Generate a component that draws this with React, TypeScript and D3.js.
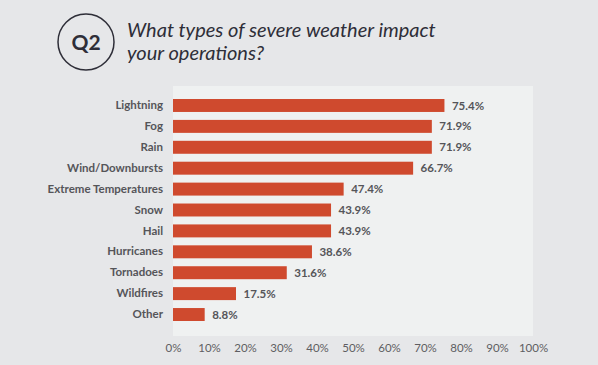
import React, { useEffect, useRef } from 'react';
import * as d3 from 'd3';

const categories = ['Lightning', 'Fog', 'Rain', 'Wind/Downbursts', 'Extreme Temperatures',
	'Snow', 'Hail', 'Hurricanes', 'Tornadoes', 'Wildfires', 'Other'];
const values = [75.4, 71.9, 71.9, 66.7, 47.4, 43.9, 43.9, 38.6, 31.6, 17.5, 8.8];
const ticks = [0, 10, 20, 30, 40, 50, 60, 70, 80, 90, 100];
const titleLines = ['What types of severe weather impact', 'your operations?'];
const badge = 'Q2';

const width = 598;
const height = 365;
const font = 'Lato, "Open Sans", sans-serif';

const drawChart = (ref) => {
	const svg = d3.select(ref.current);
	svg.selectAll('*').remove();

	svg.append('rect').attr('width', width).attr('height', height).attr('fill', '#e6e7e9');

	const x = d3.scaleLinear().domain([0, 100]).range([173, 533]);
	const y = d3.scaleBand().domain(categories).range([99, 321])
		.paddingInner(0.38)
		.paddingOuter(0);

	// plot panel
	svg.append('rect')
		.attr('x', x(0)).attr('y', 86)
		.attr('width', x(100) - x(0)).attr('height', 250)
		.attr('fill', '#eff1f1');

	// header
	svg.append('circle')
		.attr('cx', 86).attr('cy', 42).attr('r', 28)
		.attr('fill', 'none').attr('stroke', '#2e2e38').attr('stroke-width', 1.5);
	svg.append('text')
		.attr('x', 86).attr('y', 49.5)
		.attr('text-anchor', 'middle')
		.attr('font-family', font).attr('font-weight', 'bold').attr('font-size', 21)
		.attr('fill', '#2e2e38')
		.text(badge);
	svg.append('text')
		.attr('font-family', font).attr('font-style', 'italic').attr('font-size', 20)
		.attr('fill', '#2e2e38')
		.selectAll('tspan').data(titleLines)
		.enter()
		.append('tspan')
		.attr('x', 127)
		.attr('y', (d, i) => 37 + i * 23)
		.text((d) => d);

	// bars
	svg.append('g').selectAll('rect').data(values)
		.enter()
		.append('rect')
		.attr('x', x(0))
		.attr('y', (d, i) => y(categories[i]))
		.attr('width', (d) => x(d) - x(0))
		.attr('height', y.bandwidth())
		.attr('fill', '#cf4a2e');

	// value labels
	svg.append('g').selectAll('text').data(values)
		.enter()
		.append('text')
		.attr('x', (d) => x(d) + 7.5)
		.attr('y', (d, i) => y(categories[i]) + y.bandwidth() / 2)
		.attr('dy', '0.35em')
		.attr('font-family', font).attr('font-weight', 'bold').attr('font-size', 11.5)
		.attr('fill', '#555559')
		.text((d) => `${ d.toFixed(1) }%`);

	// category labels
	const yAxis = svg.append('g')
		.attr('transform', `translate(${ x(0) }, 0)`)
		.call(d3.axisLeft(y).tickSize(0).tickPadding(10));
	yAxis.select('.domain').remove();
	yAxis.selectAll('text')
		.attr('font-family', font).attr('font-weight', 'bold').attr('font-size', 11.5)
		.attr('fill', '#555559');

	// x axis
	const xAxis = svg.append('g')
		.attr('transform', 'translate(0, 344)')
		.call(d3.axisBottom(x).tickValues(ticks).tickSize(0).tickPadding(0)
			.tickFormat((d) => `${ d }%`));
	xAxis.select('.domain').remove();
	xAxis.selectAll('text')
		.attr('dy', '0.71em')
		.attr('font-family', font).attr('font-size', 11.5)
		.attr('fill', '#5e5e62');
};

const App = () => {
	const ref = useRef(null);

	useEffect(() => {
		document.body.style.margin = '0';
		drawChart(ref);
	}, []);

	return (
		<svg ref={ ref } width={ width } height={ height } style={ { display: 'block' } }/>
	);
};

export default App;
